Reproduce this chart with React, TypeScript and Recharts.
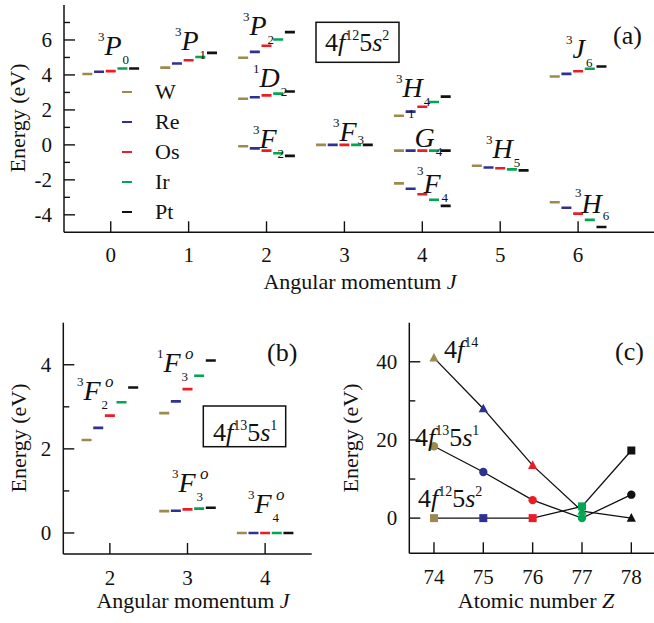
import React from 'react';
import { ComposedChart, Scatter, Line, XAxis, YAxis, Legend } from 'recharts';

const SERIF = '"Liberation Serif", Tinos, "DejaVu Serif", serif';

const ELEMENTS = ['W', 'Re', 'Os', 'Ir', 'Pt'];
const COLORS = ['#9c8a4e', '#2e3192', '#ed1c24', '#00a651', '#111111'];
const OFFSETS = [-0.3, -0.15, 0, 0.15, 0.3];

// (a) 4f^12 5s^2 levels, eV
const termsA = ['3P0', '3P1', '3P2', '1D2', '3F2', '3F3', '3H4', '1G4', '3F4', '3H5', '3J6', '3H6'];
const jA = [0, 1, 2, 2, 2, 3, 4, 4, 4, 5, 6, 6];
const wA = [4.05, 4.42, 4.98, 2.64, -0.08, 0, 1.67, -0.33, -2.2, -1.19, 3.91, -3.28];
const reA = [4.18, 4.65, 5.32, 2.72, -0.2, 0, 1.9, -0.33, -2.51, -1.29, 4.06, -3.6];
const osA = [4.22, 4.84, 5.67, 2.83, -0.33, 0, 2.18, -0.33, -2.82, -1.34, 4.21, -3.93];
const irA = [4.37, 5.03, 6.03, 2.93, -0.48, 0, 2.45, -0.33, -3.14, -1.4, 4.35, -4.29];
const ptA = [4.37, 5.26, 6.45, 3.05, -0.63, 0, 2.76, -0.33, -3.49, -1.46, 4.48, -4.7];
const levelsA = [wA, reA, osA, irA, ptA];

// (b) 4f^13 5s^1 levels, eV
const termsB = ['3F2o', '1F3o', '3F3o', '3F4o'];
const jB = [2, 3, 3, 4];
const wB = [2.21, 2.85, 0.52, 0];
const reB = [2.5, 3.13, 0.53, 0];
const osB = [2.79, 3.42, 0.56, 0];
const irB = [3.11, 3.74, 0.58, 0];
const ptB = [3.46, 4.1, 0.6, 0];
const levelsB = [wB, reB, osB, irB, ptB];

// (c) configuration energies vs Z
const zC = [74, 75, 76, 77, 78];
const f14 = [41.0, 28.0, 13.5, 1.8, 0];
const f13s1 = [18.4, 11.8, 4.6, 0, 6.0];
const f12s2 = [0, 0, 0, 3.0, 17.3];

const ticksA_y = [-4, -3, -2, -1, 0, 1, 2, 3, 4, 5, 6, 7];
const ticksA_x = [0, 1, 2, 3, 4, 5, 6];
const ticksB_y = [0, 1, 2, 3, 4];
const ticksB_x = [2, 3, 4];
const ticksC_y = [0, 10, 20, 30, 40];
const ticksC_x = [74, 75, 76, 77, 78];

const levelData = (levels: number[][], js: number[], e: number) =>
  js.map((j, i) => ({ x: j + OFFSETS[e], y: levels[e][i], term: (js === jA ? termsA : termsB)[i] }));

const LevelBar = (props: any) => {
  const { cx, cy, fill } = props;
  if (cx == null || cy == null) return null;
  return <line x1={cx - 5} x2={cx + 5} y1={cy} y2={cy} stroke={fill} strokeWidth={2.6} />;
};

const makeTick = (side: string, majors: number[], labelled: boolean, gap = 31) => (props: any) => {
  const { x, y, payload } = props;
  const v = payload.value;
  const major = majors.includes(v);
  const L = major ? 11 : 6;
  let ln;
  if (side === 'left') ln = <line x1={x} y1={y} x2={x + L} y2={y} />;
  else if (side === 'right') ln = <line x1={x} y1={y} x2={x - L} y2={y} />;
  else if (side === 'top') ln = <line x1={x} y1={y} x2={x} y2={y + L} />;
  else ln = <line x1={x} y1={y} x2={x} y2={y - L} />;
  let label = null;
  if (labelled && major) {
    if (side === 'left')
      label = <text x={x - 12} y={y} dy="0.35em" textAnchor="end" fontSize={21} fontFamily={SERIF} fill="#111">{v}</text>;
    else
      label = <text x={x} y={y + gap} textAnchor="middle" fontSize={21} fontFamily={SERIF} fill="#111">{v}</text>;
  }
  return (
    <g>
      <g stroke="#111" strokeWidth={1.4}>{ln}</g>
      {label}
    </g>
  );
};

const axisLine = { stroke: '#111', strokeWidth: 1.5 };

const LegendRows = (props: any) => {
  const payload = [...(props.payload || [])].sort(
    (a: any, b: any) => ELEMENTS.indexOf(a.value) - ELEMENTS.indexOf(b.value)
  );
  return (
    <div style={{ fontFamily: SERIF, fontSize: 22, color: '#111' }}>
      {payload.map((p: any) => (
        <div key={p.value} style={{ display: 'flex', alignItems: 'center', height: 30 }}>
          <span style={{ display: 'inline-block', width: 10, height: 2.6, background: p.color, marginRight: 23 }} />
          <span>{p.value}</span>
        </div>
      ))}
    </div>
  );
};

const Marker = ({ cx, cy, color, kind }: any) => {
  if (kind === 'tri')
    return <polygon points={`${cx},${cy - 5} ${cx - 4.6},${cy + 3.6} ${cx + 4.6},${cy + 3.6}`} fill={color} />;
  if (kind === 'circ') return <circle cx={cx} cy={cy} r={4.2} fill={color} />;
  return <rect x={cx - 4} y={cy - 4} width={8} height={8} fill={color} />;
};

const dotOf = (kind: string) => (p: any) =>
  <Marker key={`${kind}-${p.index}`} cx={p.cx} cy={p.cy} color={COLORS[p.index]} kind={kind} />;

function Term({ x, y, pre, L, sub, sup, preDy = -14, subDy = 9 }: any) {
  return (
    <text x={x} y={y + preDy} fontFamily={SERIF} fill="#111">
      <tspan fontSize={13}>{pre}</tspan>
      <tspan fontSize={28} fontStyle="italic" dy={-preDy}>{L}</tspan>
      <tspan fontSize={13} dx={1} dy={subDy}>{sub}</tspan>
      {sup ? <tspan fontSize={17} fontStyle="italic" dx={-3} dy={-13 - subDy}>{sup}</tspan> : null}
    </text>
  );
}

function Config({ x, y, parts, size = 26 }: any) {
  // parts: [base, sup] pairs, e.g. [['4f','12'],['5s','2']]
  return (
    <text x={x} y={y} fontFamily={SERIF} fill="#111" fontSize={size}>
      {parts.map((pt: string[], i: number) => (
        <React.Fragment key={i}>
          <tspan dy={i === 0 ? 0 : 11}>{pt[0][0]}</tspan>
          <tspan fontStyle="italic">{pt[0].slice(1)}</tspan>
          <tspan fontSize={14} dy={-11}>{pt[1]}</tspan>
        </React.Fragment>
      ))}
    </text>
  );
}

function PanelA() {
  return (
    <ComposedChart width={680} height={300} margin={{ top: 5, right: 24, bottom: 0, left: 0 }}>
      <XAxis xAxisId={0} type="number" dataKey="x" domain={[-0.6, 7]} allowDataOverflow ticks={ticksA_x} interval={0}
        height={67.7} tickSize={0} tickMargin={0} tickLine={false} axisLine={axisLine} tick={makeTick('bottom', ticksA_x, true, 30)} />
      <XAxis xAxisId="top" orientation="top" type="number" domain={[-0.6, 7]} allowDataOverflow ticks={ticksA_x} interval={0}
        height={0} tickSize={0} tickMargin={0} tickLine={false} axisLine={axisLine} tick={makeTick('top', ticksA_x, false)} />
      <YAxis yAxisId={0} type="number" dataKey="y" domain={[-5, 8]} allowDataOverflow ticks={ticksA_y} interval={0}
        width={64} tickSize={0} tickMargin={0} tickLine={false} axisLine={axisLine} tick={makeTick('left', [-4, -2, 0, 2, 4, 6], true)} />
      <YAxis yAxisId="right" orientation="right" type="number" domain={[-5, 8]} allowDataOverflow ticks={ticksA_y} interval={0}
        width={0} tickSize={0} tickMargin={0} tickLine={false} axisLine={axisLine} tick={makeTick('right', [-4, -2, 0, 2, 4, 6], false)} />
      {ELEMENTS.map((el, e) => (
        <Scatter key={el} name={el} data={levelData(levelsA, jA, e)} dataKey="y" fill={COLORS[e]}
          shape={LevelBar} isAnimationActive={false} />
      ))}
      <Legend layout="vertical" align="center" verticalAlign="middle" content={LegendRows}
        wrapperStyle={{ left: 122, top: 77, width: 80, height: 150 }} />
    </ComposedChart>
  );
}

function PanelB() {
  return (
    <ComposedChart width={330} height={323} margin={{ top: 22.7, right: 18.3, bottom: 0, left: 0 }}>
      <XAxis xAxisId={0} type="number" dataKey="x" domain={[1.4, 4.6]} allowDataOverflow ticks={ticksB_x} interval={0}
        height={69} tickSize={0} tickMargin={0} tickLine={false} axisLine={axisLine} tick={makeTick('bottom', ticksB_x, true, 31)} />
      <XAxis xAxisId="top" orientation="top" type="number" domain={[1.4, 4.6]} allowDataOverflow ticks={ticksB_x} interval={0}
        height={0} tickSize={0} tickMargin={0} tickLine={false} axisLine={axisLine} tick={makeTick('top', ticksB_x, false)} />
      <YAxis yAxisId={0} type="number" dataKey="y" domain={[-0.5, 5]} allowDataOverflow ticks={ticksB_y} interval={0}
        width={63.3} tickSize={0} tickMargin={0} tickLine={false} axisLine={axisLine} tick={makeTick('left', [0, 2, 4], true)} />
      <YAxis yAxisId="right" orientation="right" type="number" domain={[-0.5, 5]} allowDataOverflow ticks={ticksB_y} interval={0}
        width={0} tickSize={0} tickMargin={0} tickLine={false} axisLine={axisLine} tick={makeTick('right', [0, 2, 4], false)} />
      {ELEMENTS.map((el, e) => (
        <Scatter key={el} name={el} data={levelData(levelsB, jB, e)} dataKey="y" fill={COLORS[e]}
          shape={LevelBar} isAnimationActive={false} />
      ))}
    </ComposedChart>
  );
}

function PanelC() {
  const data = zC.map((z, i) => ({ z, a: f14[i], b: f13s1[i], c: f12s2[i] }));
  return (
    <ComposedChart width={350} height={323} data={data} margin={{ top: 22.7, right: 24, bottom: 0, left: 0 }}>
      <XAxis xAxisId={0} type="number" dataKey="z" domain={[73.5, 78.5]} allowDataOverflow ticks={ticksC_x} interval={0}
        height={69.7} tickSize={0} tickMargin={0} tickLine={false} axisLine={axisLine} tick={makeTick('bottom', ticksC_x, true, 31)} />
      <XAxis xAxisId="top" orientation="top" type="number" domain={[73.5, 78.5]} allowDataOverflow ticks={ticksC_x} interval={0}
        height={0} tickSize={0} tickMargin={0} tickLine={false} axisLine={axisLine} tick={makeTick('top', ticksC_x, false)} />
      <YAxis yAxisId={0} type="number" domain={[-9, 50]} allowDataOverflow ticks={ticksC_y} interval={0}
        width={79.3} tickSize={0} tickMargin={0} tickLine={false} axisLine={axisLine} tick={makeTick('left', [0, 20, 40], true)} />
      <YAxis yAxisId="right" orientation="right" type="number" domain={[-9, 50]} allowDataOverflow ticks={ticksC_y} interval={0}
        width={0} tickSize={0} tickMargin={0} tickLine={false} axisLine={axisLine} tick={makeTick('right', [0, 20, 40], false)} />
      <Line dataKey="c" stroke="#111" strokeWidth={1.3} dot={dotOf('sq')} activeDot={false} isAnimationActive={false} />
      <Line dataKey="b" stroke="#111" strokeWidth={1.3} dot={dotOf('circ')} activeDot={false} isAnimationActive={false} />
      <Line dataKey="a" stroke="#111" strokeWidth={1.3} dot={dotOf('tri')} activeDot={false} isAnimationActive={false} />
    </ComposedChart>
  );
}

function Overlay() {
  const title = { fontFamily: SERIF, fontSize: 22, fill: '#111' };
  return (
    <svg width={654} height={623} style={{ position: 'absolute', left: 0, top: 0, pointerEvents: 'none' }}>
      {/* panel (a) term labels */}
      <Term x={98} y={55} pre="3" L="P" sub="0" />
      <Term x={175} y={50} pre="3" L="P" sub="1" />
      <Term x={243} y={35} pre="3" L="P" sub="2" />
      <Term x={253} y={87} pre="1" L="D" sub="2" />
      <Term x={253} y={148} pre="3" L="F" sub="2" subDy={10} />
      <Term x={333} y={141} pre="3" L="F" sub="3" subDy={3} />
      <Term x={396} y={97} pre="3" L="H" sub="4" />
      <Term x={408} y={147} pre="1" L="G" sub="4" preDy={-29} />
      <Term x={417} y={193} pre="3" L="F" sub="4" preDy={-18} />
      <Term x={486} y={158} pre="3" L="H" sub="5" />
      <Term x={566} y={58} pre="3" L="J" sub="6" />
      <Term x={575} y={213} pre="3" L="H" sub="6" preDy={-16} subDy={7} />
      <rect x={316} y={22.3} width={83} height={40} fill="none" stroke="#111" strokeWidth={1.5} />
      <Config x={325} y={51} parts={[['4f', '12'], ['5s', '2']]} />
      <text x={613} y={44} fontFamily={SERIF} fontSize={26} fill="#111">(a)</text>
      <text transform="rotate(-90 25 118)" x={25} y={118} textAnchor="middle" {...title}>Energy (eV)</text>
      <text x={360} y={289} textAnchor="middle" {...title}>Angular momentum <tspan fontStyle="italic">J</tspan></text>

      {/* panel (b) */}
      <Term x={77} y={400} pre="3" L="F" sub="2" sup="o" />
      <Term x={157} y={372} pre="1" L="F" sub="3" sup="o" />
      <Term x={172} y={492} pre="3" L="F" sub="3" sup="o" />
      <Term x={248} y={513} pre="3" L="F" sub="4" sup="o" />
      <rect x={203.3} y={406} width={82.4} height={40.7} fill="none" stroke="#111" strokeWidth={1.5} />
      <Config x={213} y={441} parts={[['4f', '13'], ['5s', '1']]} />
      <text x={267} y={361} fontFamily={SERIF} fontSize={26} fill="#111">(b)</text>
      <text transform="rotate(-90 26 438)" x={26} y={438} textAnchor="middle" {...title}>Energy (eV)</text>
      <text x={193} y={608} textAnchor="middle" {...title}>Angular momentum <tspan fontStyle="italic">J</tspan></text>

      {/* panel (c) */}
      <Config x={444} y={358} parts={[['4f', '14']]} />
      <Config x={415} y={446} parts={[['4f', '13'], ['5s', '1']]} />
      <Config x={418} y={507} parts={[['4f', '12'], ['5s', '2']]} />
      <text x={615} y={360} fontFamily={SERIF} fontSize={26} fill="#111">(c)</text>
      <text transform="rotate(-90 358 438)" x={358} y={438} textAnchor="middle" {...title}>Energy (eV)</text>
      <text x={536} y={608} textAnchor="middle" {...title}>Atomic number <tspan fontStyle="italic">Z</tspan></text>
    </svg>
  );
}

export default function App() {
  return (
    <div style={{ position: 'absolute', left: 0, top: 0, width: 654, height: 623, overflow: 'hidden', background: '#fff', fontFamily: SERIF }}>
      <div style={{ position: 'absolute', left: 0, top: 0 }}><PanelA /></div>
      <div style={{ position: 'absolute', left: 0, top: 300 }}><PanelB /></div>
      <div style={{ position: 'absolute', left: 330, top: 300 }}><PanelC /></div>
      <Overlay />
    </div>
  );
}
